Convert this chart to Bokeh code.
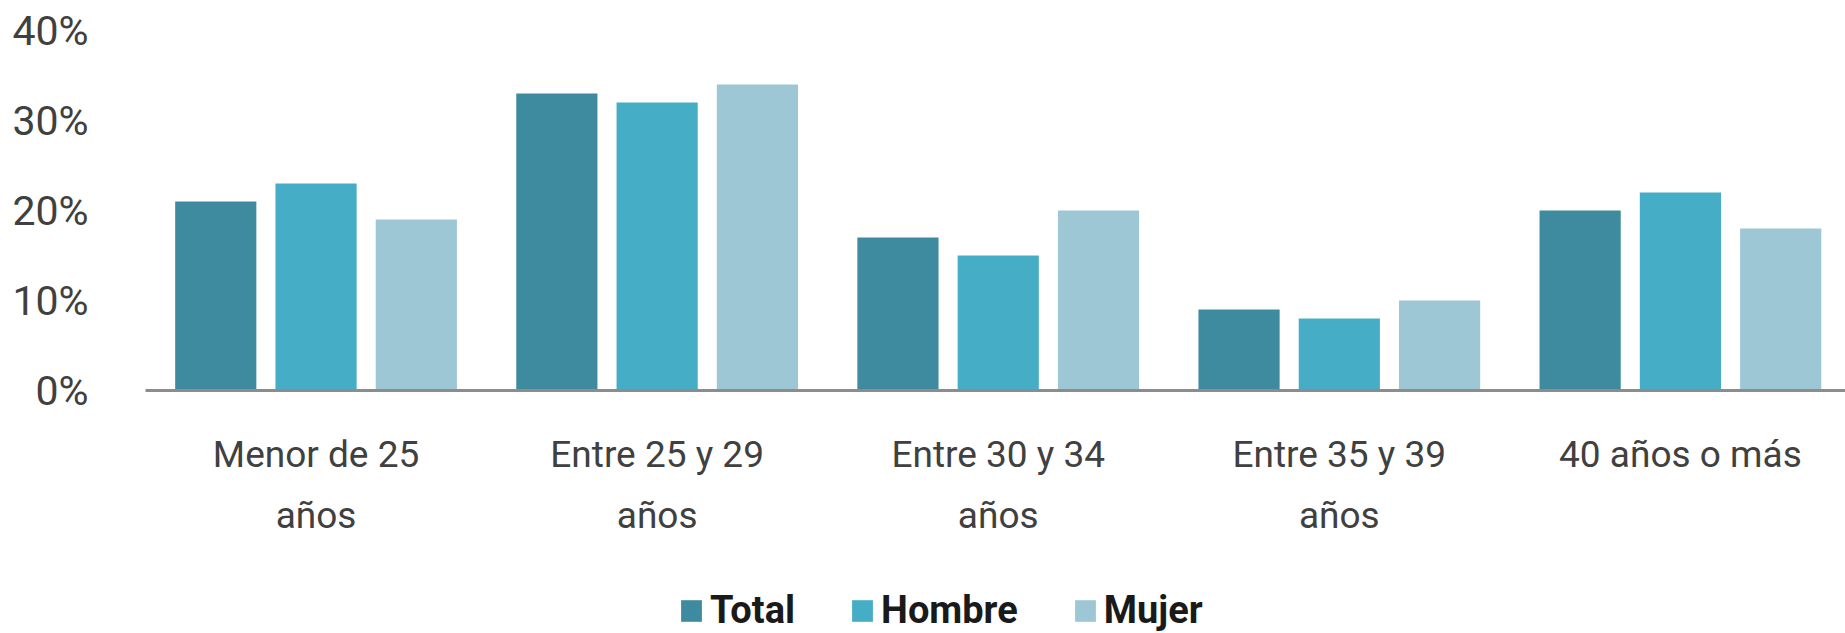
import numpy as np
from bokeh.plotting import figure
from bokeh.layouts import column
from bokeh.models import (Range1d, FixedTicker, PrintfTickFormatter, CustomJSTickFormatter,
                          Legend, LegendItem, ColumnDataSource)
from bokeh.embed import file_html
from bokeh.resources import INLINE

# ---- data ----
categories = ["Menor de 25\naños", "Entre 25 y 29\naños", "Entre 30 y 34\naños",
              "Entre 35 y 39\naños", "40 años o más"]
series_names = ["Total", "Hombre", "Mujer"]
total = [21, 33, 17, 9, 20]
hombre = [23, 32, 15, 8, 22]
mujer = [19, 34, 20, 10, 18]
y_ticks = [0, 10, 20, 30, 40]

colors = ["#3e8a9e", "#45adc6", "#9dc7d5"]
FONT = "Roboto"

p = figure(width=1845, height=575, output_backend="svg", toolbar_location=None,
           x_range=Range1d(0, 4.984), y_range=Range1d(0, 40),
           min_border_left=145, min_border_right=0, min_border_top=30,
           min_border_bottom=185)
p.outline_line_color = None
p.grid.grid_line_color = None
p.background_fill_color = "white"
p.border_fill_color = "white"

idx = np.arange(len(categories)) + 0.5
offsets = [-0.294, 0.0, 0.294]
for vals, off, col in zip([total, hombre, mujer], offsets, colors):
    src = ColumnDataSource(dict(x=idx + off, top=vals))
    p.vbar(x="x", top="top", width=0.238, bottom=0, source=src,
           fill_color=col, line_color=None)

# x axis
xa = p.xaxis[0]
xa.ticker = FixedTicker(ticks=list(idx))
xa.formatter = CustomJSTickFormatter(args=dict(labels=categories),
                                     code="return labels[Math.floor(tick)];")
xa.axis_line_color = "#8c8c8c"
xa.axis_line_width = 3
xa.major_tick_line_color = None
xa.minor_tick_line_color = None
xa.major_label_text_font = FONT
xa.major_label_text_font_size = "37px"
xa.major_label_text_color = "#404040"
xa.major_label_text_line_height = 1.43
xa.major_label_standoff = 36

# y axis
ya = p.yaxis[0]
ya.ticker = FixedTicker(ticks=y_ticks)
ya.formatter = PrintfTickFormatter(format="%d%%")
ya.axis_line_color = None
ya.major_tick_line_color = None
ya.minor_tick_line_color = None
ya.major_label_text_font = FONT
ya.major_label_text_font_size = "41px"
ya.major_label_text_color = "#404040"
ya.major_label_standoff = 51

# ---- legend strip ----
pl = figure(width=1845, height=58, output_backend="svg", toolbar_location=None,
            x_range=Range1d(0, 1), y_range=Range1d(0, 1),
            min_border=0)
pl.outline_line_color = None
pl.grid.grid_line_color = None
pl.axis.visible = False
pl.border_fill_color = "white"
leg_renderers = []
for col in colors:
    # a single bar placed outside the visible range; only its legend swatch shows
    leg_renderers.append(pl.vbar(x=[5], top=[1], width=0.1, fill_color=col, line_color=None))

legend = Legend(items=[LegendItem(label=n, renderers=[r]) for n, r in zip(series_names, leg_renderers)],
                orientation="horizontal", location=(533, 1))
legend.border_line_color = None
legend.background_fill_alpha = 0
legend.padding = 0
legend.margin = 0
legend.spacing = 54
legend.glyph_width = 26
legend.glyph_height = 27
legend.label_standoff = 6
legend.label_text_font = FONT
legend.label_text_font_style = "bold"
legend.label_text_font_size = "38px"
legend.label_text_color = "#1a1a1a"
pl.add_layout(legend, "center")

layout = column(p, pl, spacing=0)
open("out.html", "w").write(file_html(layout, INLINE))
